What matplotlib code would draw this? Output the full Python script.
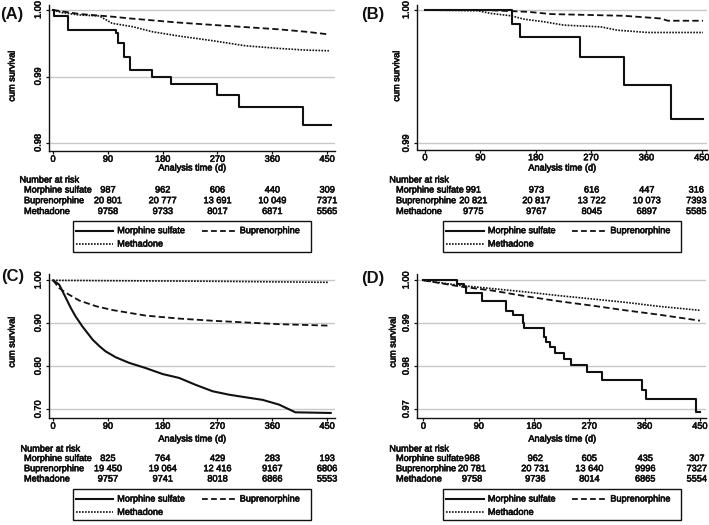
import matplotlib
matplotlib.use("Agg")
import matplotlib.pyplot as plt
import matplotlib.patheffects as pe
from matplotlib.lines import Line2D
from matplotlib.patches import Rectangle
from matplotlib.transforms import blended_transform_factory

plt.rcParams['font.family'] = ['Liberation Sans', 'DejaVu Sans']

# ---------------- data ----------------
drugs = ["Morphine sulfate", "Buprenorphine", "Methadone"]
xticks = [0, 90, 180, 270, 360, 450]

# Panel A
a_morph_t = [0, 1.6, 25, 103, 107, 117, 126, 162, 193, 269, 305, 411, 456]
a_morph_s = [1.0, 0.99915, 0.99704, 0.99648, 0.99508, 0.99296, 0.99095, 0.98995,
             0.98884, 0.98719, 0.98538, 0.98271, 0.98271]
a_bup_t = [0, 43, 97, 125, 207, 289, 371, 415, 453]
a_bup_s = [1.0, 0.9994, 0.9990, 0.99874, 0.9981, 0.99759, 0.99709, 0.99673, 0.99633]
a_meth_t = [0, 15, 43, 76, 97, 130, 163, 207, 262, 316, 371, 415, 453]
a_meth_s = [1.0, 0.9996, 0.99925, 0.9991, 0.998, 0.9975, 0.99673, 0.99608, 0.99538,
            0.99462, 0.99422, 0.99397, 0.99387]
a_risk = [["987", "962", "606", "440", "309"],
          ["20 801", "20 777", "13 691", "10 049", "7371"],
          ["9758", "9733", "8017", "6871", "5565"]]

# Panel B
b_morph_t = [0, 142, 155, 252, 324, 400, 452]
b_morph_s = [1.0, 0.99894, 0.99796, 0.99646, 0.99442, 0.99186, 0.99186]
b_bup_t = [0, 100, 150, 167, 205, 324, 383, 395, 452]
b_bup_s = [1.0, 1.0, 0.9999, 0.99987, 0.9997, 0.99957, 0.99937, 0.9992, 0.9992]
b_meth_t = [0, 86, 107, 140, 161, 194, 226, 286, 313, 362, 452]
b_meth_s = [1.0, 0.99995, 0.99975, 0.99957, 0.99932, 0.99912, 0.99887, 0.99874,
            0.99849, 0.99832, 0.99832]
b_risk = [["991", "973", "616", "447", "316"],
          ["20 821", "20 817", "13 722", "10 073", "7393"],
          ["9775", "9767", "8045", "6897", "5585"]]

# Panel C
c_morph_t = [0, 10, 15, 21, 29, 37, 48, 65, 76, 86, 103, 125, 152, 180, 207, 234,
             262, 289, 316, 344, 371, 398, 456]
c_morph_s = [1.0, 0.99, 0.976, 0.959, 0.936, 0.916, 0.893, 0.862, 0.847, 0.835,
             0.821, 0.808, 0.796, 0.782, 0.773, 0.757, 0.742, 0.734, 0.728, 0.722,
             0.711, 0.693, 0.6915]
c_bup_t = [0, 10, 21, 43, 70, 97, 152, 207, 262, 316, 371, 453]
c_bup_s = [1.0, 0.982, 0.971, 0.953, 0.940, 0.931, 0.918, 0.911, 0.906, 0.902,
           0.898, 0.8946]
c_meth_t = [0, 90, 180, 270, 360, 453]
c_meth_s = [1.0, 0.9992, 0.9985, 0.9977, 0.9965, 0.9953]
c_risk = [["825", "764", "429", "283", "193"],
          ["19 450", "19 064", "12 416", "9167", "6806"],
          ["9757", "9741", "8018", "6866", "5553"]]

# Panel D
d_morph_t = [0, 55, 66, 70, 95, 134, 146, 162, 164, 197, 200, 206, 214, 229, 240,
             267, 291, 355, 362, 444, 450]
d_morph_s = [1.0, 0.99915, 0.99837, 0.99705, 0.99512, 0.99295, 0.99202, 0.99008,
             0.98891, 0.98674, 0.98566, 0.9845, 0.9831, 0.98178, 0.98023, 0.9786,
             0.9769, 0.97457, 0.9724, 0.9693, 0.9693]
d_bup_t = [0, 58, 113, 167, 221, 275, 329, 383, 450]
d_bup_s = [1.0, 0.9986, 0.9976, 0.99628, 0.99512, 0.99411, 0.99302, 0.99202, 0.99062]
d_meth_t = [0, 58, 113, 167, 221, 275, 329, 383, 450]
d_meth_s = [1.0, 0.99884, 0.99806, 0.99729, 0.99643, 0.99566, 0.99488, 0.99395, 0.99302]
d_risk = [["988", "962", "605", "435", "307"],
          ["20 781", "20 731", "13 640", "9996", "7327"],
          ["9758", "9736", "8014", "6865", "5554"]]

# ---------------- layout ----------------
W, H = 709, 525
fig = plt.figure(figsize=(W / 100, H / 100), dpi=100)

def fx(x):
    return x / W

def fy(y):
    return 1 - y / H

INK = "#111111"
FS = 6.6
PE = [pe.withStroke(linewidth=0.45, foreground=INK)]
STY_M = dict(color=INK, lw=1.5, ls="-")
STY_B = dict(color=INK, lw=1.3, ls=(0, (3.5, 1.8)))
STY_D = dict(color=INK, lw=1.2, ls=(0, (1, 0.8)))

def txt(x, y, s, **kw):
    kw.setdefault("fontsize", FS)
    kw.setdefault("color", INK)
    t = fig.text(x, y, s, **kw)
    t.set_path_effects(PE)
    return t

# risk-table column positions (in analysis-time units, as laid out by the source)
pos_ac = [90, 180, 270, 360, 450]
pos_b = [78.5, 181, 271, 360.5, 441]
pos_d = [79, 182, 270, 361, 445]

panels = [
    dict(lab="(A)", labxy=(0, 15), rect=(49.3, 5, 335, 151), xlim=(-6.2, 463),
         ylim=(0.9788, 1.00075), yt=[0.98, 0.99, 1.00],
         m=(a_morph_t, a_morph_s, True), b=(a_bup_t, a_bup_s), d=(a_meth_t, a_meth_s),
         risk=a_risk, rpos=pos_ac, ylab=(12, 76), xlab=(192.5, 168),
         nar=(19.5, 180), rowx=24, rowy=[190, 200.7, 211.5], leg=(72.7, 220.7)),
    dict(lab="(B)", labxy=(361.5, 15), rect=(417.3, 5, 707, 149.5), xlim=(-12.5, 458.5),
         ylim=(0.98955, 1.00038), yt=[0.99, 1.00],
         m=(b_morph_t, b_morph_s, True), b=(b_bup_t, b_bup_s), d=(b_meth_t, b_meth_s),
         risk=b_risk, rpos=pos_b, ylab=(396.7, 76), xlab=(562.5, 168),
         nar=(389.3, 180), rowx=396, rowy=[190, 200.7, 211.5], leg=(443.3, 220.7)),
    dict(lab="(C)", labxy=(1.5, 277), rect=(49.3, 274, 335, 418), xlim=(-6.2, 463),
         ylim=(0.6798, 1.0147), yt=[0.70, 0.80, 0.90, 1.00],
         m=(c_morph_t, c_morph_s, False), b=(c_bup_t, c_bup_s), d=(c_meth_t, c_meth_s),
         risk=c_risk, rpos=pos_ac, ylab=(12, 342), xlab=(192.5, 439),
         nar=(20.5, 449), rowx=24, rowy=[458.5, 468.7, 479], leg=(72.7, 489)),
    dict(lab="(D)", labxy=(361.5, 279), rect=(417.3, 274, 706, 418), xlim=(-10, 460),
         ylim=(0.96798, 1.00147), yt=[0.97, 0.98, 0.99, 1.00],
         m=(d_morph_t, d_morph_s, True), b=(d_bup_t, d_bup_s), d=(d_meth_t, d_meth_s),
         risk=d_risk, rpos=pos_d, ylab=(393, 342), xlab=(562.5, 439),
         nar=(389.3, 449), rowx=396, rowy=[458.5, 468.7, 479], leg=(443.3, 489)),
]

for p in panels:
    l, t, r, b = p["rect"]
    ax = fig.add_axes([fx(l), fy(b), (r - l) / W, (b - t) / H])
    ax.set_xlim(*p["xlim"])
    ax.set_ylim(*p["ylim"])
    for s in ("top", "right"):
        ax.spines[s].set_visible(False)
    for s in ("left", "bottom"):
        ax.spines[s].set_linewidth(1.0)
        ax.spines[s].set_color(INK)
    ax.set_xticks(xticks)
    ax.set_xticklabels([str(v) for v in xticks], fontsize=FS)
    ax.set_yticks(p["yt"])
    ax.set_yticklabels(["%.2f" % v for v in p["yt"]], fontsize=FS, rotation=90,
                       va="center")
    for lbl in ax.get_xticklabels() + ax.get_yticklabels():
        lbl.set_path_effects(PE)
    ax.tick_params(axis="x", length=2.2, width=0.9, pad=0.5, colors=INK)
    ax.tick_params(axis="y", length=2.2, width=0.9, pad=2.6, colors=INK)
    for v in p["yt"]:
        ax.axhline(v, color="#c8c8c8", lw=1.0, zorder=0)

    mt, ms, steps = p["m"]
    ax.plot(mt, ms, drawstyle="steps-post" if steps else "default", zorder=3, **STY_M)
    ax.plot(p["b"][0], p["b"][1], zorder=2, **STY_B)
    ax.plot(p["d"][0], p["d"][1], zorder=2, **STY_D)

    # panel label and axis titles
    fig.text(fx(p["labxy"][0]), fy(p["labxy"][1]), p["lab"], fontsize=12,
             fontweight="bold", ha="left", va="center", color=INK)
    txt(fx(p["ylab"][0]), fy(p["ylab"][1]), "cum survival",
        rotation=90, ha="center", va="center")
    txt(fx(p["xlab"][0]), fy(p["xlab"][1]), "Analysis time (d)",
        ha="center", va="center")

    # number at risk table
    txt(fx(p["nar"][0]), fy(p["nar"][1]), "Number at risk", ha="left", va="center")
    tr = blended_transform_factory(ax.transData, fig.transFigure)
    for i, name in enumerate(drugs):
        yy = fy(p["rowy"][i])
        txt(fx(p["rowx"]), yy, name, ha="left", va="center")
        for xpos, val in zip(p["rpos"], p["risk"][i]):
            txt(xpos, yy, val, ha="center", va="center", transform=tr)

    # legend box
    L, T = p["leg"]
    bw, bh = 238, 31
    fig.add_artist(Rectangle((fx(L), fy(T + bh)), bw / W, bh / H,
                             transform=fig.transFigure, fill=False,
                             edgecolor=INK, lw=1.0))
    r1, r2 = T + 10, T + 23.3
    entries = [(drugs[0], STY_M, L + 3, L + 40.5, r1),
               (drugs[1], dict(STY_B, ls=(0, (3.2, 1.8))), L + 129, L + 163, r1),
               (drugs[2], STY_D, L + 3, L + 40.5, r2)]
    for name, sty, x0, x1, yy in entries:
        fig.add_artist(Line2D([fx(x0), fx(x1)], [fy(yy), fy(yy)],
                              transform=fig.transFigure, **sty))
        txt(fx(x1 + 4), fy(yy), name, ha="left", va="center")

fig.savefig("out.png", dpi=100)
